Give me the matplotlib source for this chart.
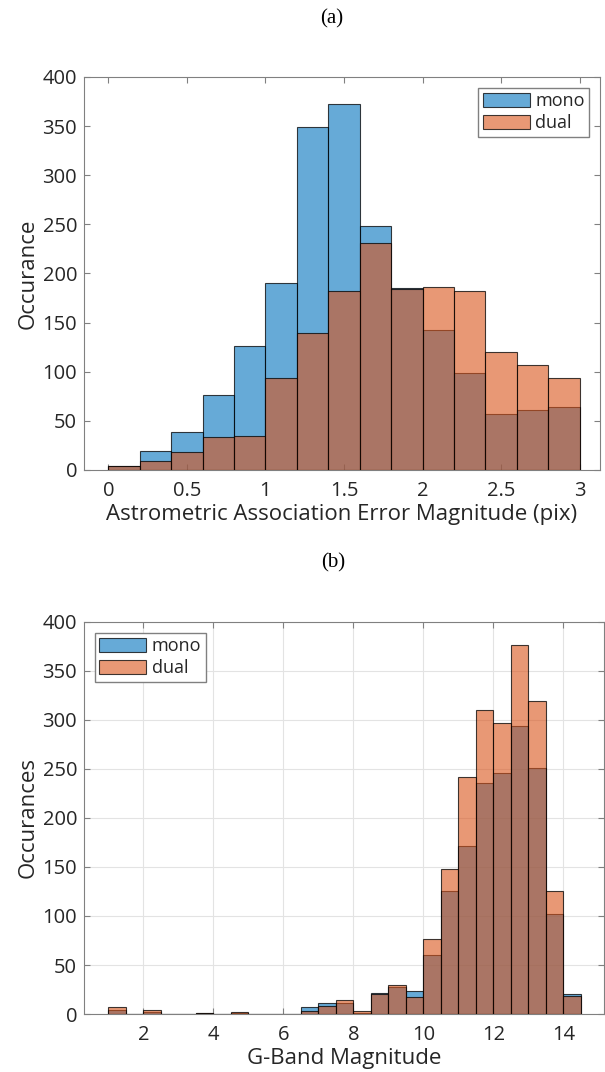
import numpy as np
import matplotlib
matplotlib.use('Agg')
import matplotlib.pyplot as plt

plt.rcParams['font.family'] = ['Open Sans', 'DejaVu Sans']

# (a) astrometric association error, bins of 0.2 pix
err_edges = [0.0, 0.2, 0.4, 0.6, 0.8, 1.0, 1.2, 1.4, 1.6, 1.8, 2.0, 2.2, 2.4, 2.6, 2.8, 3.0]
err_mono = [4, 19, 39, 76, 126, 190, 349, 372, 248, 185, 142, 99, 57, 61, 64]
err_dual = [4, 9, 18, 34, 35, 94, 139, 182, 231, 184, 186, 182, 120, 107, 94]

# (b) G-band magnitude, bins of 0.5 mag
mag_edges = [1.0, 1.5, 2.0, 2.5, 3.0, 3.5, 4.0, 4.5, 5.0, 5.5, 6.0, 6.5, 7.0, 7.5,
             8.0, 8.5, 9.0, 9.5, 10.0, 10.5, 11.0, 11.5, 12.0, 12.5, 13.0, 13.5, 14.0, 14.5]
mag_mono = [4, 0, 2, 0, 0, 1, 0, 1, 0, 0, 0, 7, 11, 11, 1, 21, 28, 23,
            60, 125, 171, 236, 246, 294, 251, 102, 20]
mag_dual = [7, 0, 4, 0, 0, 1, 0, 2, 0, 0, 0, 3, 8, 14, 3, 20, 30, 17,
            77, 148, 242, 310, 297, 376, 319, 126, 18]

blue = (0.0, 0.447, 0.741, 0.6)
orange = (0.85, 0.325, 0.098, 0.6)
edge = (0, 0, 0, 0.75)
txt = '#262626'
spine = '#808080'


def draw_hist(ax, edges, mono, dual):
    edges = np.asarray(edges)
    widths = np.diff(edges)
    ax.bar(edges[:-1], mono, width=widths, align='edge', facecolor=blue,
           edgecolor=edge, linewidth=0.8, label='mono', zorder=2)
    ax.bar(edges[:-1], dual, width=widths, align='edge', facecolor=orange,
           edgecolor=edge, linewidth=0.8, label='dual', zorder=3)


def style(ax):
    for s in ax.spines.values():
        s.set_color(spine)
        s.set_linewidth(0.8)
    ax.tick_params(direction='in', top=True, right=True, length=4, pad=5,
                   color=spine, labelcolor=txt, labelsize=14.5, width=0.8)
    ax.tick_params(axis='x', pad=8)


def add_legend(ax, loc):
    leg = ax.legend(loc=loc, fontsize=13, handlelength=2.6, handleheight=0.8,
                    labelspacing=0.22, borderpad=0.25, handletextpad=0.3,
                    borderaxespad=0.6, fancybox=False, framealpha=1, edgecolor=spine)
    for t in leg.get_texts():
        t.set_color(txt)
    return leg


fig = plt.figure(figsize=(6.05, 10.72), dpi=100)

ax1 = fig.add_axes([0.1388, 0.5616, 0.853, 0.3666])
draw_hist(ax1, err_edges, err_mono, err_dual)
ax1.set_xlim(-0.155, 3.13)
ax1.set_ylim(0, 400)
ax1.set_xticks([0, 0.5, 1, 1.5, 2, 2.5, 3])
ax1.set_xticklabels(['0', '0.5', '1', '1.5', '2', '2.5', '3'])
ax1.set_yticks(np.arange(0, 401, 50))
style(ax1)
ax1.set_xlabel('Astrometric Association Error Magnitude (pix)', fontsize=16, color=txt, labelpad=2)
ax1.set_ylabel('Occurance', fontsize=16, color=txt, labelpad=3)
add_legend(ax1, 'upper right')

ax2 = fig.add_axes([0.1388, 0.0541, 0.8595, 0.3657])
draw_hist(ax2, mag_edges, mag_mono, mag_dual)
ax2.set_xlim(0.306, 15.16)
ax2.set_ylim(0, 400)
ax2.set_xticks([2, 4, 6, 8, 10, 12, 14])
ax2.set_yticks(np.arange(0, 401, 50))
ax2.grid(True, color='#e3e3e3', linewidth=0.8, zorder=0)
ax2.set_axisbelow(True)
style(ax2)
ax2.set_xlabel('G-Band Magnitude', fontsize=16, color=txt, labelpad=2)
ax2.set_ylabel('Occurances', fontsize=16, color=txt, labelpad=3)
add_legend(ax2, 'upper left')

fig.text(332 / 605, 1 - 19 / 1072, '(a)', ha='center', va='center',
         fontsize=15, family='Liberation Serif', color='black')
fig.text(333 / 605, 1 - 563 / 1072, '(b)', ha='center', va='center',
         fontsize=15, family='Liberation Serif', color='black')

fig.savefig('out.png', dpi=100, facecolor='white')
